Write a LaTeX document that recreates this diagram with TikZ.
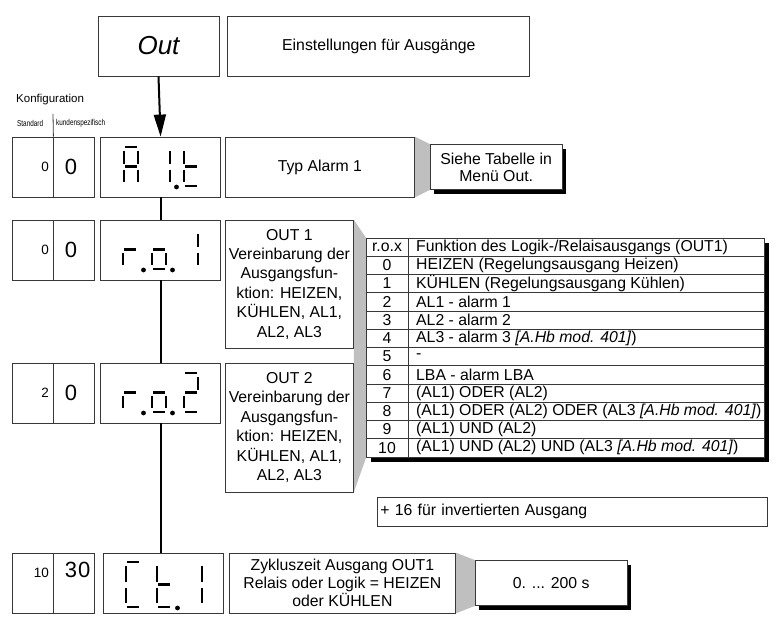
\documentclass[tikz,border=0pt]{standalone}
\usepackage{fontspec}
\setmainfont{Liberation Sans}
\usepackage{graphicx}
\usetikzlibrary{arrows.meta,positioning,shadows,backgrounds}

% seven-segment digit, drawn from its top left corner
\newcommand{\digh}{39}
\newcommand{\dsega}{\draw[seg] (1,0) -- (13,0);}
\newcommand{\dsegb}{\draw[seg] (14,4) -- (14,\digh/2-3);}
\newcommand{\dsegc}{\draw[seg] (14,\digh/2+3) -- (14,\digh-4);}
\newcommand{\dsegd}{\draw[seg] (1,\digh) -- (13,\digh);}
\newcommand{\dsege}{\draw[seg] (0,\digh/2+3) -- (0,\digh-4);}
\newcommand{\dsegf}{\draw[seg] (0,4) -- (0,\digh/2-3);}
\newcommand{\dsegg}{\draw[seg] (1,\digh/2) -- (13,\digh/2);}
\newcommand{\dsegp}{\fill (20.5,\digh+1) circle[radius=2.4pt];}
\newcommand{\segdigit}[3]{%
  \begin{scope}[shift={(#1,#2)}]
    \foreach \s in {#3} {\csname dseg\s\endcsname}
  \end{scope}}
\newcommand{\stdnum}[1]{\makebox[33pt][r]{#1}}
\newcommand{\cusnum}[1]{\makebox[19pt][l]{#1}}

\begin{document}
\begin{tikzpicture}[
        x=1pt, y=-1pt,
        font=\fontsize{15.8}{19}\selectfont,
        box/.style={draw=black!78, line width=0.8pt, fill=white, inner sep=0pt, align=center},
        disp/.style={box, minimum width=120pt, minimum height=60pt},
        cfgcell/.style={box, minimum width=41pt, minimum height=60pt},
        small/.style={font=\fontsize{13.5}{16}\selectfont},
        big/.style={font=\fontsize{22}{26}\selectfont},
        note/.style={box, drop shadow={shadow xshift=4pt, shadow yshift=-4pt, fill=black, opacity=1}},
        wedge/.style={fill=black!25},
        seg/.style={line width=2.6pt, black},
        flow/.style={line width=2pt},
        arr/.style={flow, -{Triangle[length=22pt, width=12pt]}},
        tabline/.style={draw=black!78, line width=0.8pt}
    ]
        \useasboundingbox (0,0) rectangle (777,626);

        % menu head
        \node[box, minimum width=121pt, minimum height=60pt, font=\fontsize{26}{30}\selectfont\itshape] (out) at (158.5,46) {Out};
        \node[box, minimum width=302pt, minimum height=60pt, right=8pt of out] (ein) {Einstellungen für Ausgänge};

        \node[anchor=west, inner sep=0pt, font=\fontsize{11.5}{14}\selectfont] (konf) at (16,100) {Konfiguration};
        \node[anchor=west, inner sep=0pt, font=\fontsize{8.5}{10}\selectfont] (stdlbl) at (17,123) {\scalebox{0.75}[1]{Standard}};
        \node[anchor=west, inner sep=0pt, font=\fontsize{8.5}{10}\selectfont] (kundlbl) at (56,123) {\scalebox{0.75}[1]{kundenspezifisch}};

        % row 1
        \node[cfgcell, small] (std1) at (32.5,167) {\stdnum{0}};
        \node[cfgcell, big, right=0pt of std1] (cus1) {\cusnum{0}};
        \node[disp, right=5pt of cus1] (disp1) {};
        \node[box, minimum width=189pt, minimum height=60pt, right=4pt of disp1] (typ) {Typ Alarm 1};
        \node[note, minimum width=132pt, minimum height=45pt, right=15pt of typ, font=\fontsize{15.8}{17}\selectfont] (siehe) {Siehe Tabelle in\\Menü Out.};

        % row 2
        \node[cfgcell, small] (std2) at (32.5,250) {\stdnum{0}};
        \node[cfgcell, big, right=0pt of std2] (cus2) {\cusnum{0}};
        \node[disp, right=5pt of cus2] (disp2) {};
        \node[box, minimum width=128pt, minimum height=128pt, anchor=north west, font=\fontsize{15.8}{19.4}\selectfont] (out1) at ([xshift=4pt]disp2.north east) {OUT 1\\Vereinbarung der\\Ausgangsfun-\\ktion: HEIZEN,\\KÜHLEN, AL1,\\AL2, AL3};

        % row 3
        \node[cfgcell, small] (std3) at (32.5,393) {\stdnum{2}};
        \node[cfgcell, big, right=0pt of std3] (cus3) {\cusnum{0}};
        \node[disp, right=5pt of cus3] (disp3) {};
        \node[box, minimum width=128pt, minimum height=129pt, anchor=north west, font=\fontsize{15.8}{19.4}\selectfont] (out2) at ([xshift=4pt]disp3.north east) {OUT 2\\Vereinbarung der\\Ausgangsfun-\\ktion: HEIZEN,\\KÜHLEN, AL1,\\AL2, AL3};

        % row 4
        \node[cfgcell, small] (std4) at (32.5,583) {\stdnum{\raisebox{6pt}[0pt][0pt]{10}}};
        \node[cfgcell, big, right=0pt of std4] (cus4) {\cusnum{\raisebox{6pt}[0pt][0pt]{3\kern1pt0}}};
        \node[disp, right=8pt of cus4] (disp4) {};
        \node[box, minimum width=226pt, minimum height=60pt, right=5pt of disp4, font=\fontsize{15.8}{18}\selectfont] (zyk) {Zykluszeit Ausgang OUT1\\Relais oder Logik = HEIZEN\\oder KÜHLEN};
        \node[note, minimum width=152pt, minimum height=45pt, right=19pt of zyk] (rng) {0. ... 200 s};

        % table of r.o.x values
        \node[box, minimum width=398pt, minimum height=219pt, anchor=north west,
              drop shadow={shadow xshift=5pt, shadow yshift=-5pt, fill=black, opacity=1}] (tab) at (366,238) {};
        \foreach \i in {1,...,11}
            \draw[tabline] ([yshift={-18.25pt*\i}]tab.north west) -- ([yshift={-18.25pt*\i}]tab.north east);
        \draw[tabline] ([xshift=42pt]tab.north west) -- ([xshift=42pt]tab.south west);
        \node (hd) at (387,247) {r.o.x};
        \node[anchor=west, inner sep=2pt] (hdtxt) at (414,247) {Funktion des Logik-/Relaisausgangs (OUT1)};
        \foreach \n/\txt [count=\i] in {
                0/HEIZEN (Regelungsausgang Heizen),
                1/KÜHLEN (Regelungsausgang Kühlen),
                2/AL1 - alarm 1,
                3/AL2 - alarm 2,
                4/AL3 - alarm 3 \textit{[A.Hb mod. 401]}),
                5/-,
                6/LBA - alarm LBA,
                7/(AL1) ODER (AL2),
                8/(AL1) ODER (AL2) ODER (AL3 \textit{[A.Hb mod. 401]}),
                9/(AL1) UND (AL2),
                10/(AL1) UND (AL2) UND (AL3 \textit{[A.Hb mod. 401]})} {
            \node (idx\n) at (387,{247+18.25*\i}) {\n};
            \node[anchor=west, inner sep=2pt] (fn\n) at (414,{247+18.25*\i}) {\txt};
        }
        \node[box, text width=384pt, inner xsep=3pt, minimum height=29pt, align=left, anchor=north west] (inv) at (377,497) {+ 16 für invertierten Ausgang};

        % grey call-outs
        \begin{scope}[on background layer]
            \fill[wedge] (typ.north east) -- (siehe.north west) -- (siehe.south west) -- (typ.south east) -- cycle;
            \fill[wedge] (out1.north east) -- (tab.north west) -- (tab.south west) -- (out2.south east) -- cycle;
            \fill[wedge] (zyk.north east) -- (rng.north west) -- (rng.south west) -- (zyk.south east) -- cycle;
        \end{scope}

        % divider of the two config columns
        \coordinate (cfgtop) at (53,114);
        \draw[tabline] (cfgtop) -- (std1.north east);

        % menu flow
        \draw[arr] (out.south) -- (disp1.north);
        \draw[flow] (disp1.south) -- (disp2.north);
        \draw[flow] (disp2.south) -- (disp3.north);
        \draw[flow] (disp3.south) -- (disp3.south |- disp4.north);

        % display readings
        \segdigit{124}{147}{a,b,c,e,f,g}
        \segdigit{156}{147}{b,c,p}
        \segdigit{184}{147}{f,e,g,d}
        \segdigit{123}{230}{e,g,p}
        \segdigit{152}{230}{c,d,e,g,p}
        \segdigit{184}{230}{b,c}
        \segdigit{123}{373}{e,g,p}
        \segdigit{152}{373}{c,d,e,g,p}
        \segdigit{184}{373}{a,b,g,e,d}
        \renewcommand{\digh}{45}
        \segdigit{126}{562}{a,f,e,d}
        \segdigit{157}{562}{f,e,g,d,p}
        \segdigit{188}{562}{b,c}
    \end{tikzpicture}
\end{document}
